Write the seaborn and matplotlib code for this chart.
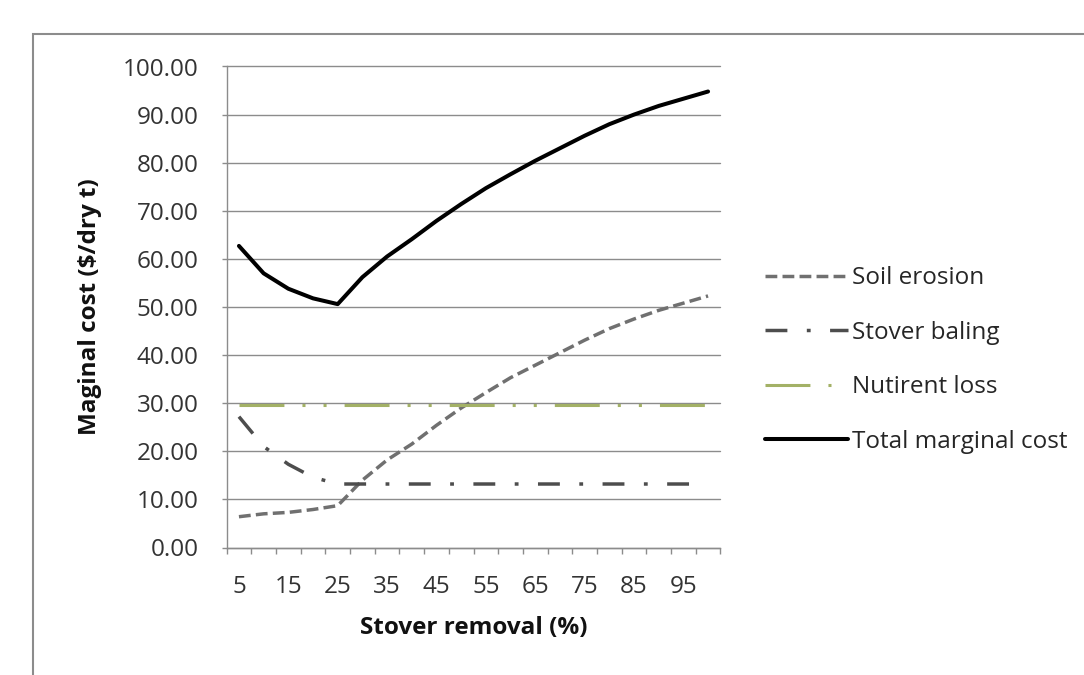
import matplotlib
matplotlib.use('Agg')
import numpy as np
import pandas as pd
import matplotlib.pyplot as plt
from matplotlib.patches import Rectangle
from matplotlib.ticker import FixedLocator, FuncFormatter
import seaborn as sns

# =============================================================================
# Data
# =============================================================================

removal = [5, 10, 15, 20, 25, 30, 35, 40, 45, 50,
           55, 60, 65, 70, 75, 80, 85, 90, 95, 100]

soil_erosion = [6.4, 7.0, 7.3, 7.9, 8.7, 14.0, 18.2, 21.5, 25.4, 29.0,
                32.2, 35.3, 37.9, 40.5, 43.1, 45.5, 47.5, 49.3, 50.8, 52.3]

stover_baling = [27.2, 21.0, 17.3, 14.6, 13.2, 13.2, 13.2, 13.2, 13.2, 13.2,
                 13.2, 13.2, 13.2, 13.2, 13.2, 13.2, 13.2, 13.2, 13.2, 13.2]

nutrient_loss = [29.6, 29.6, 29.6, 29.6, 29.6, 29.6, 29.6, 29.6, 29.6, 29.6,
                 29.6, 29.6, 29.6, 29.6, 29.6, 29.6, 29.6, 29.6, 29.6, 29.6]

total_cost = [62.7, 57.0, 53.8, 51.8, 50.6, 56.2, 60.5, 64.1, 67.9, 71.4,
              74.7, 77.6, 80.4, 83.0, 85.6, 88.0, 90.0, 91.8, 93.3, 94.8]

series_names = ['Soil erosion', 'Stover baling', 'Nutirent loss', 'Total marginal cost']
x_tick_values = [5, 15, 25, 35, 45, 55, 65, 75, 85, 95]
x_tick_labels = ['5', '15', '25', '35', '45', '55', '65', '75', '85', '95']
y_tick_values = [0, 10, 20, 30, 40, 50, 60, 70, 80, 90, 100]

plot_df = pd.DataFrame({
    'Stover removal (%)': removal * 4,
    'Cost': soil_erosion + stover_baling + nutrient_loss + total_cost,
    'Series': ([series_names[0]] * len(removal) + [series_names[1]] * len(removal) +
               [series_names[2]] * len(removal) + [series_names[3]] * len(removal)),
})

styles = {
    'Soil erosion':        dict(color='#707070', lw=2.5, ls=(0, (3.4, 1.5))),
    'Stover baling':       dict(color='#4D4D4D', lw=2.5, ls=(0, (6.3, 5.6, 1.1, 5.6))),
    'Nutirent loss':       dict(color='#A3B166', lw=2.2, ls=(0, (14.7, 5.9, 1.0, 5.9, 1.0, 5.9))),
    'Total marginal cost': dict(color='#000000', lw=2.9, ls='-'),
}

# =============================================================================
# Plot
# =============================================================================

sns.set_theme(style='white')
plt.rcParams['font.family'] = ['Open Sans', 'DejaVu Sans']

FS = 17.5
W, H = 1084, 675
fig = plt.figure(figsize=(W / 100, H / 100), dpi=100)
ax = fig.add_axes([226.6 / W, 1 - 547.5 / H, 493.8 / W, 481 / H])

for name, group in plot_df.groupby('Series', sort=False):
    st = styles[name]
    sns.lineplot(data=group, x='Stover removal (%)', y='Cost', ax=ax, label=name,
                 color=st['color'], linewidth=st['lw'], linestyle=st['ls'])

grid_grey = '#8C8C8C'
ax.set_xlim(2.5, 102.5)
ax.set_ylim(0, 100)
ax.set_xticks(x_tick_values)
ax.set_xticklabels(x_tick_labels)
ax.xaxis.set_minor_locator(FixedLocator(np.arange(2.5, 103, 5)))
ax.set_yticks(y_tick_values)
ax.yaxis.set_major_formatter(FuncFormatter(lambda v, _: f'{v:.2f}'))

ax.tick_params(axis='x', which='major', length=0, pad=20, labelsize=FS, labelcolor='#333333')
ax.tick_params(axis='x', which='minor', length=4.5, width=1, color=grid_grey, direction='out', bottom=True)
ax.tick_params(axis='y', which='major', length=3.6, width=1, color=grid_grey, direction='out',
               left=True, pad=16.5, labelsize=FS, labelcolor='#333333')

ax.grid(axis='y', color=grid_grey, linewidth=1.0)
for gl in ax.get_ygridlines():
    gl.set_clip_on(False)
ax.set_axisbelow(True)
for side in ['top', 'right']:
    ax.spines[side].set_visible(False)
for side in ['left', 'bottom']:
    ax.spines[side].set_color(grid_grey)
    ax.spines[side].set_linewidth(1.0)

ax.set_xlabel('Stover removal (%)', fontsize=FS, fontweight='bold', color='#111111')
ax.set_ylabel('Maginal cost (\\$/dry t)', fontsize=FS, fontweight='bold', color='#111111')
ax.xaxis.set_label_coords(0.5, -0.142)
ax.yaxis.set_label_coords(-0.252, 0.5)

handles, labels = ax.get_legend_handles_labels()
ax.legend_.remove()
fig.legend(handles, labels, loc='center left', bbox_to_anchor=(765 / W, 1 - 360 / H),
           frameon=False, fontsize=FS, handlelength=3.4, handletextpad=0.2,
           labelspacing=1.25, borderpad=0, borderaxespad=0)

# outer chart-area frame (only top and left edges fall inside the image)
fig.add_artist(Rectangle((33 / W, -0.05), 1.2, 1 - 34 / H + 0.05, fill=False,
                         edgecolor='#8C8C8C', linewidth=1.5, transform=fig.transFigure))

fig.savefig('out.png', dpi=100)
